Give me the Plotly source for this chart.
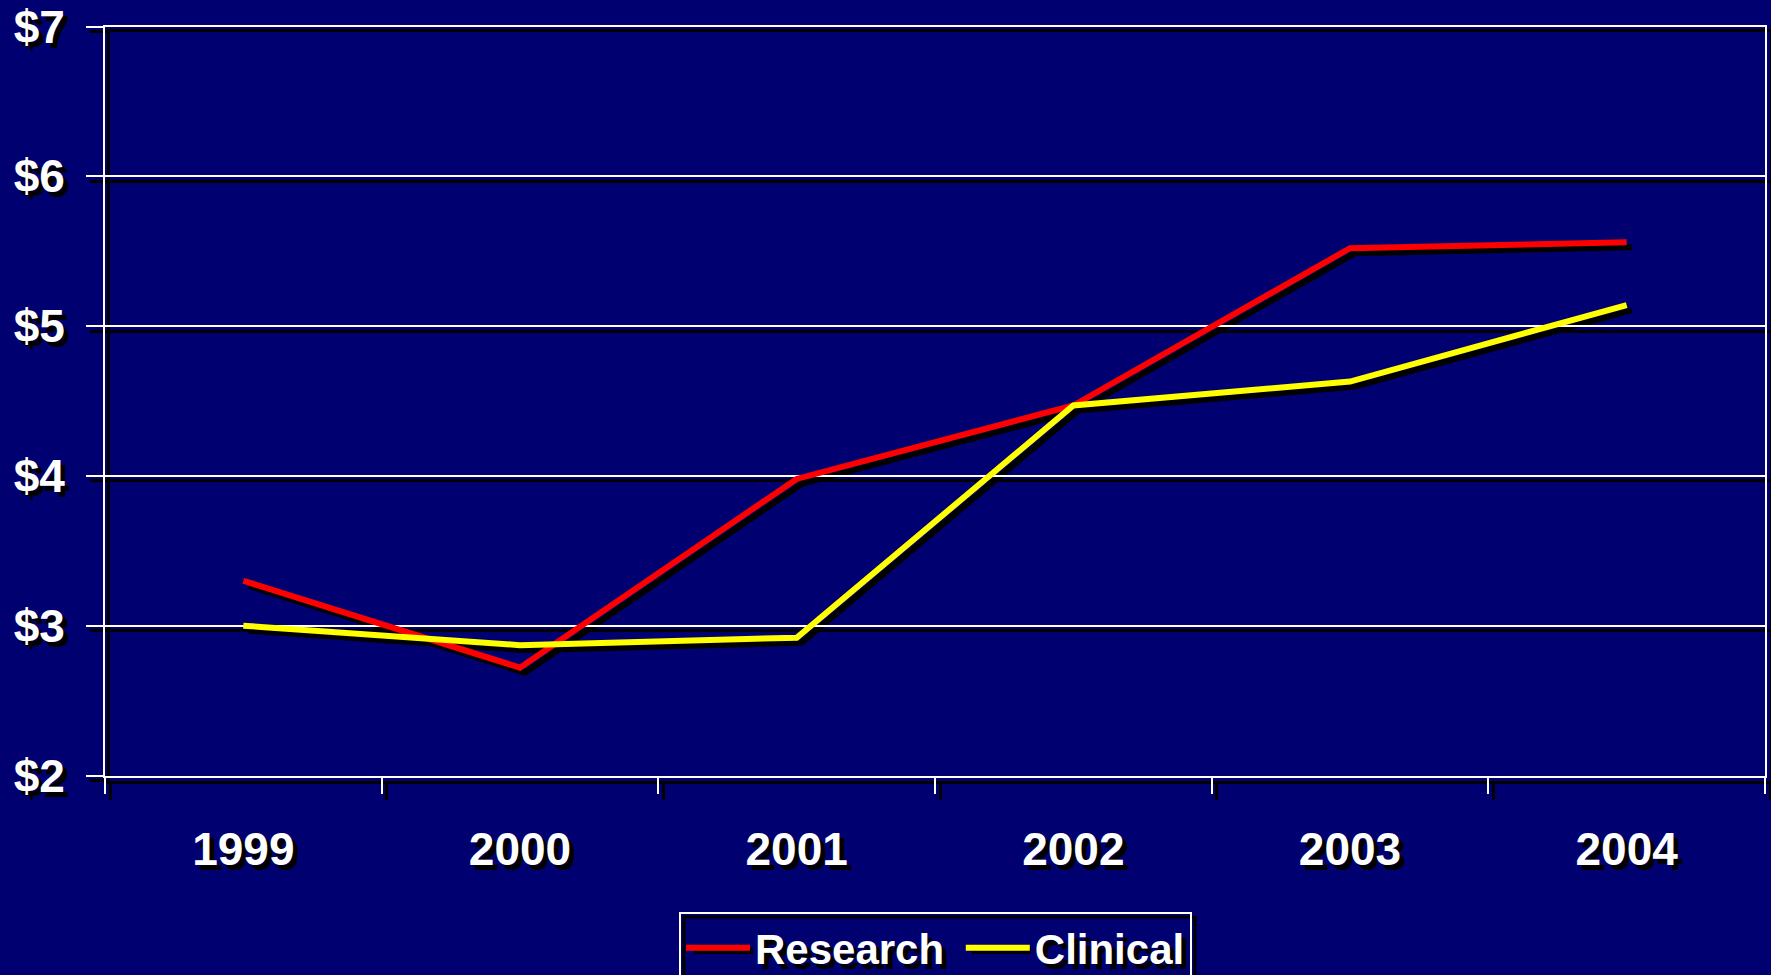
import plotly.graph_objects as go

# ---- data ----
years = ["1999", "2000", "2001", "2002", "2003", "2004"]
research = [3.30, 2.72, 3.98, 4.47, 5.52, 5.56]
clinical = [3.00, 2.87, 2.92, 4.47, 4.63, 5.14]
y_tick_values = [2, 3, 4, 5, 6, 7]
y_tick_labels = ["$2", "$3", "$4", "$5", "$6", "$7"]
series_names = ["Research\u00a0", "Clinical"]
series_colors = ["#FF0000", "#FFFF00"]

# ---- geometry (pixels) ----
W, H = 1771, 975
L, R, T, B = 105, 1765, 26.5, 775.5
SH = 5  # shadow offset
BG = "#000070"
FONT = "Liberation Sans, Arial, sans-serif"
TXT_SHADOW = "5px 5px 0px #000000"
LEG_X, LEG_TOP, LEG_RIGHT = 679, 912, 1190


def xd(a, b):
    return [a / W, b / W]


def yd(top, bottom):
    return [(H - bottom) / H, (H - top) / H]


fig = go.Figure()

# shadow traces (drawn on offset axes x/y, underneath)
for vals in (research, clinical):
    fig.add_trace(go.Scatter(x=years, y=vals, mode="lines",
                             line=dict(color="black", width=6),
                             xaxis="x", yaxis="y", showlegend=False,
                             hoverinfo="skip"))

# main traces
for name, vals, col in zip(series_names, (research, clinical), series_colors):
    fig.add_trace(go.Scatter(x=years, y=vals, mode="lines", name=name,
                             line=dict(color=col, width=6),
                             xaxis="x2", yaxis="y2"))

common_x = dict(type="category", range=[-0.5, 5.5], tickson="boundaries",
                ticks="outside", ticklen=16, showgrid=False, showline=True,
                mirror=True, zeroline=False, fixedrange=True)
common_y = dict(range=[2, 7], tickvals=y_tick_values, ticktext=y_tick_labels,
                ticks="outside", ticklen=17, showgrid=True, showline=True,
                mirror=True, zeroline=False, fixedrange=True)

# decorative shadows for legend box and legend samples (pixel positions)
sample_y = 946 + SH
shapes = [
    dict(type="rect", xref="paper", yref="paper",
         x0=(LEG_X + SH) / W, x1=(LEG_RIGHT + SH) / W,
         y0=-0.2, y1=(H - LEG_TOP - SH) / H,
         line=dict(color="black", width=3), layer="below"),
]
for sx in (689, 967):
    shapes.append(dict(type="line", xref="paper", yref="paper",
                       x0=(sx + SH) / W, x1=(sx + 59 + SH) / W,
                       y0=(H - sample_y) / H, y1=(H - sample_y) / H,
                       line=dict(color="black", width=6), layer="below"))

fig.update_layout(
    width=W, height=H,
    margin=dict(l=0, r=0, t=0, b=0, autoexpand=False),
    paper_bgcolor=BG, plot_bgcolor="rgba(0,0,0,0)",
    font=dict(family=FONT, color="white"),
    # shadow axes
    xaxis=dict(common_x, domain=xd(L + SH, R + SH), anchor="y",
               linecolor="black", linewidth=3, tickcolor="black", tickwidth=3,
               showticklabels=False),
    yaxis=dict(common_y, domain=yd(T + SH, B + SH), anchor="x",
               linecolor="black", linewidth=3, tickcolor="black", tickwidth=3,
               gridcolor="black", gridwidth=3, showticklabels=False),
    # main axes
    xaxis2=dict(common_x, domain=xd(L, R), anchor="y2",
                linecolor="white", linewidth=2, tickcolor="white", tickwidth=2,
                ticklabelstandoff=32,
                tickfont=dict(family=FONT, size=46, color="white",
                              weight="bold", shadow=TXT_SHADOW)),
    yaxis2=dict(common_y, domain=yd(T, B), anchor="x2",
                linecolor="white", linewidth=2, tickcolor="white", tickwidth=2,
                gridcolor="white", gridwidth=2, ticklabelstandoff=12,
                tickfont=dict(family=FONT, size=46, color="white",
                              weight="bold", shadow=TXT_SHADOW)),
    showlegend=True,
    legend=dict(orientation="h", x=LEG_X / W, xanchor="left",
                y=(H - LEG_TOP) / H, yanchor="top",
                bgcolor="rgba(0,0,0,0)", bordercolor="white", borderwidth=2,
                itemwidth=64,
                font=dict(family=FONT, size=42, color="white", weight="bold",
                          shadow=TXT_SHADOW)),
    shapes=shapes,
)

fig.write_html(
    "out.html",
    config={"displayModeBar": False},
    post_script="document.body.style.margin='0';"
                "document.body.style.padding='0';"
                "document.body.style.background='" + BG + "';"
                "document.documentElement.style.background='" + BG + "';",
)
